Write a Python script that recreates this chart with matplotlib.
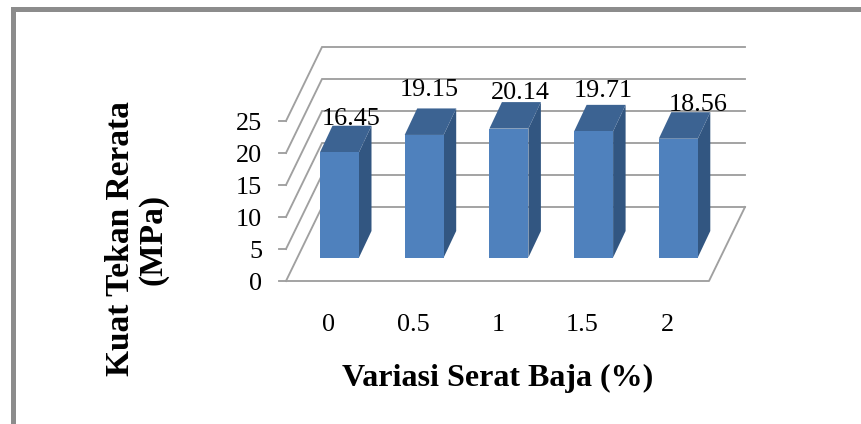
import matplotlib
matplotlib.use("Agg")
import matplotlib.pyplot as plt
from matplotlib.patches import Polygon
from matplotlib.lines import Line2D

categories = ["0", "0.5", "1", "1.5", "2"]
strength = [16.45, 19.15, 20.14, 19.71, 18.56]
y_ticks = [0, 5, 10, 15, 20, 25]
x_title = "Variasi Serat Baja (%)"
y_title = "Kuat Tekan Rerata\n(MPa)"

plt.rcParams["font.family"] = ["Liberation Serif", "DejaVu Serif"]
W, H = 861, 424
fig = plt.figure(figsize=(W / 100, H / 100), dpi=100, facecolor="white")
ax = fig.add_axes([0, 0, 1, 1])
ax.axis("off")

# scales: one category = 84.7 px, one MPa = 6.4 px
PX_X, PX_Y = 84.7, 6.4
X0_PX, Y0_PX = 339.5, 257.5   # pixel of first bar centre / bar base
ax.set_xlim(-X0_PX / PX_X, (W - X0_PX) / PX_X)
ax.set_ylim(-(H - Y0_PX) / PX_Y, Y0_PX / PX_Y)

def dx(px):
    return px / PX_X

def dy(px):
    return px / PX_Y

GRID = "#A0A0A0"
LW = 1.35
FRONT, TOP, SIDE = "#4F81BD", "#3C6392", "#325681"
BAR_W = dx(39)
DEPTH_X, DEPTH_Y = dx(12.5), dy(26.5)
# box of the chart, relative to the bar base
LEFT, RIGHT = dx(286 - X0_PX), dx(709 - X0_PX)
FLOOR = dy(Y0_PX - 281)
BOX_X, BOX_Y = dx(36), dy(74)
TXT = dy(-3)   # text sits a little lower than its nominal centre

# walls and gridlines
for t in y_ticks:
    y = FLOOR + t
    ax.plot([LEFT, LEFT + BOX_X, RIGHT + BOX_X],
            [y, y + BOX_Y, y + BOX_Y], color=GRID, lw=LW, zorder=1,
            solid_joinstyle="miter")
    ax.plot([LEFT - dx(7), LEFT], [y, y], color=GRID, lw=LW, zorder=1)
    ax.text(LEFT - dx(24), y + TXT, str(t), ha="right", va="center",
            fontsize=18.8, color="black")
ax.plot([LEFT, RIGHT, RIGHT + BOX_X], [FLOOR, FLOOR, FLOOR + BOX_Y],
        color=GRID, lw=LW, zorder=1)

# bars
label_nudge = [(12, 10), (5, 21), (11, 12), (10, 17), (20, 10)]
for i, (cat, v) in enumerate(zip(categories, strength)):
    l, r = i - BAR_W / 2, i + BAR_W / 2
    ax.add_patch(Polygon([(r, 0), (r + DEPTH_X, DEPTH_Y), (r + DEPTH_X, v + DEPTH_Y), (r, v)],
                         fc=SIDE, ec="none", zorder=3))
    ax.add_patch(Polygon([(l, v), (r, v), (r + DEPTH_X, v + DEPTH_Y), (l + DEPTH_X, v + DEPTH_Y)],
                         fc=TOP, ec="none", zorder=3))
    ax.add_patch(Polygon([(l, 0), (r, 0), (r, v), (l, v)],
                         fc=FRONT, ec="none", zorder=4))
    nx, ny = label_nudge[i]
    ax.text(i + dx(nx), v + DEPTH_Y + dy(ny) + TXT, f"{v:.2f}", ha="center",
            va="center", fontsize=18.8, color="black", zorder=6)
    ax.text(i - dx(11), dy(257.5 - 322) + TXT, cat, ha="center", va="center",
            fontsize=18.8, color="black")

ax.text(dx(498 - X0_PX), dy(257.5 - 375) + TXT, x_title, ha="center", va="center",
        fontsize=23, fontweight="bold", color="black")
ax.text(dx(137 - X0_PX), dy(257.5 - 239), y_title, ha="center", va="center",
        rotation=90, fontsize=24, fontweight="bold", color="black",
        linespacing=1.05)

# outer frame
frame = "#8C8C8C"
fig.add_artist(Line2D([13.3 / W, 13.3 / W, 1], [0, 1 - 8.5 / H, 1 - 8.5 / H],
                      color=frame, lw=3.6, solid_joinstyle="miter"))

fig.savefig("out.png", dpi=100)
